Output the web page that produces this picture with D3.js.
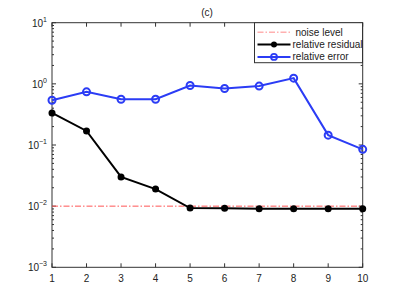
<!DOCTYPE html>
<html>
<head>
<meta charset="utf-8">
<script src="https://cdn.jsdelivr.net/npm/d3@7"></script>
<style>
  body { margin: 0; background: #fff; }
  text { font-family: "Liberation Sans", Arial, sans-serif; fill: #222; }
</style>
</head>
<body>
<svg id="chart" width="401" height="301"></svg>
<script>
let iterations = [1, 2, 3, 4, 5, 6, 7, 8, 9, 10]
let relResidual = [0.335, 0.17, 0.030, 0.019, 0.0093, 0.0092, 0.0091, 0.0091, 0.0091, 0.0091]
let relError = [0.54, 0.74, 0.56, 0.56, 0.94, 0.84, 0.92, 1.24, 0.145, 0.085]
let noiseLevel = 0.01
let yTickExps = [-3, -2, -1, 0, 1]
let legendLabels = ["noise level", "relative residual", "relative error"]

let svg = d3.select("#chart")
let margin = {left: 52, right: 38.3, top: 22.7, bottom: 33.7}
let width = 401 - margin.left - margin.right
let height = 301 - margin.top - margin.bottom

let g = svg.append("g").attr("transform", `translate(${margin.left},${margin.top})`)

let x = d3.scaleLinear().domain([1, 10]).range([0, width])
let y = d3.scaleLog().domain([1e-3, 1e1]).range([height, 0])

// minor ticks for log axis
let minorTicks = []
for (let e = -3; e < 1; e++) {
    for (let m = 2; m <= 9; m++) minorTicks.push(m * Math.pow(10, e))
}

const axisColor = "#333"

// box
g.append("rect")
    .attr("width", width).attr("height", height)
    .attr("fill", "none").attr("stroke", axisColor).attr("stroke-width", 1)

// x ticks (bottom + top, inward)
iterations.forEach(d => {
    g.append("line").attr("x1", x(d)).attr("x2", x(d)).attr("y1", height).attr("y2", height - 4)
        .attr("stroke", axisColor)
    g.append("line").attr("x1", x(d)).attr("x2", x(d)).attr("y1", 0).attr("y2", 4)
        .attr("stroke", axisColor)
    g.append("text").attr("x", x(d)).attr("y", height + 15)
        .attr("text-anchor", "middle").attr("font-size", 10).text(d)
})

// y ticks (left + right, inward)
yTickExps.forEach(e => {
    let v = Math.pow(10, e)
    g.append("line").attr("x1", 0).attr("x2", 4).attr("y1", y(v)).attr("y2", y(v)).attr("stroke", axisColor)
    g.append("line").attr("x1", width).attr("x2", width - 4).attr("y1", y(v)).attr("y2", y(v)).attr("stroke", axisColor)
    let t = g.append("text").attr("x", -5).attr("y", y(v) + 4)
        .attr("text-anchor", "end").attr("font-size", 10)
    t.append("tspan").text("10")
    t.append("tspan").attr("font-size", 7).attr("dy", -5).text(e < 0 ? "\u2212" + (-e) : e)
})
minorTicks.forEach(v => {
    g.append("line").attr("x1", 0).attr("x2", 2).attr("y1", y(v)).attr("y2", y(v)).attr("stroke", axisColor)
    g.append("line").attr("x1", width).attr("x2", width - 2).attr("y1", y(v)).attr("y2", y(v)).attr("stroke", axisColor)
})

// noise level
g.append("line")
    .attr("x1", 0).attr("x2", width)
    .attr("y1", y(noiseLevel)).attr("y2", y(noiseLevel))
    .attr("stroke", "#ff5555").attr("stroke-width", 1)
    .attr("stroke-dasharray", "6,2,1.5,2")

let line = d3.line().x((d, i) => x(iterations[i])).y(d => y(d))

// relative residual
g.append("path").datum(relResidual).attr("d", line)
    .attr("fill", "none").attr("stroke", "#000").attr("stroke-width", 2)
g.selectAll(".res").data(relResidual).enter().append("circle")
    .attr("cx", (d, i) => x(iterations[i])).attr("cy", d => y(d))
    .attr("r", 3.5).attr("fill", "#000")

// relative error
g.append("path").datum(relError).attr("d", line)
    .attr("fill", "none").attr("stroke", "#2b3cf5").attr("stroke-width", 2)
g.selectAll(".err").data(relError).enter().append("circle")
    .attr("cx", (d, i) => x(iterations[i])).attr("cy", d => y(d))
    .attr("r", 3.5).attr("fill", "none").attr("stroke", "#2b3cf5").attr("stroke-width", 2)

// title
svg.append("text").attr("x", 207).attr("y", 16).attr("text-anchor", "middle")
    .attr("font-size", 10).text("(c)")

// legend
let lg = svg.append("g").attr("transform", "translate(254.5,22.7)")
lg.append("rect").attr("width", 108).attr("height", 40)
    .attr("fill", "#fff").attr("stroke", axisColor)
let rows = [9.5, 21.8, 34.2]
// noise
lg.append("line").attr("x1", 3).attr("x2", 36).attr("y1", rows[0]).attr("y2", rows[0])
    .attr("stroke", "#ffb0b0").attr("stroke-width", 1.5).attr("stroke-dasharray", "6,2,1.5,2")
// residual
lg.append("line").attr("x1", 3).attr("x2", 36).attr("y1", rows[1]).attr("y2", rows[1])
    .attr("stroke", "#000").attr("stroke-width", 2)
lg.append("circle").attr("cx", 19.5).attr("cy", rows[1]).attr("r", 3).attr("fill", "#000")
// error
lg.append("line").attr("x1", 3).attr("x2", 36).attr("y1", rows[2]).attr("y2", rows[2])
    .attr("stroke", "#2b3cf5").attr("stroke-width", 2)
lg.append("circle").attr("cx", 19.5).attr("cy", rows[2]).attr("r", 3)
    .attr("fill", "none").attr("stroke", "#2b3cf5").attr("stroke-width", 1.8)
legendLabels.forEach((l, i) => {
    lg.append("text").attr("x", i === 0 ? 41 : 38).attr("y", rows[i] + 3.5)
        .attr("font-size", 10).text(l)
})
</script>
</body>
</html>
